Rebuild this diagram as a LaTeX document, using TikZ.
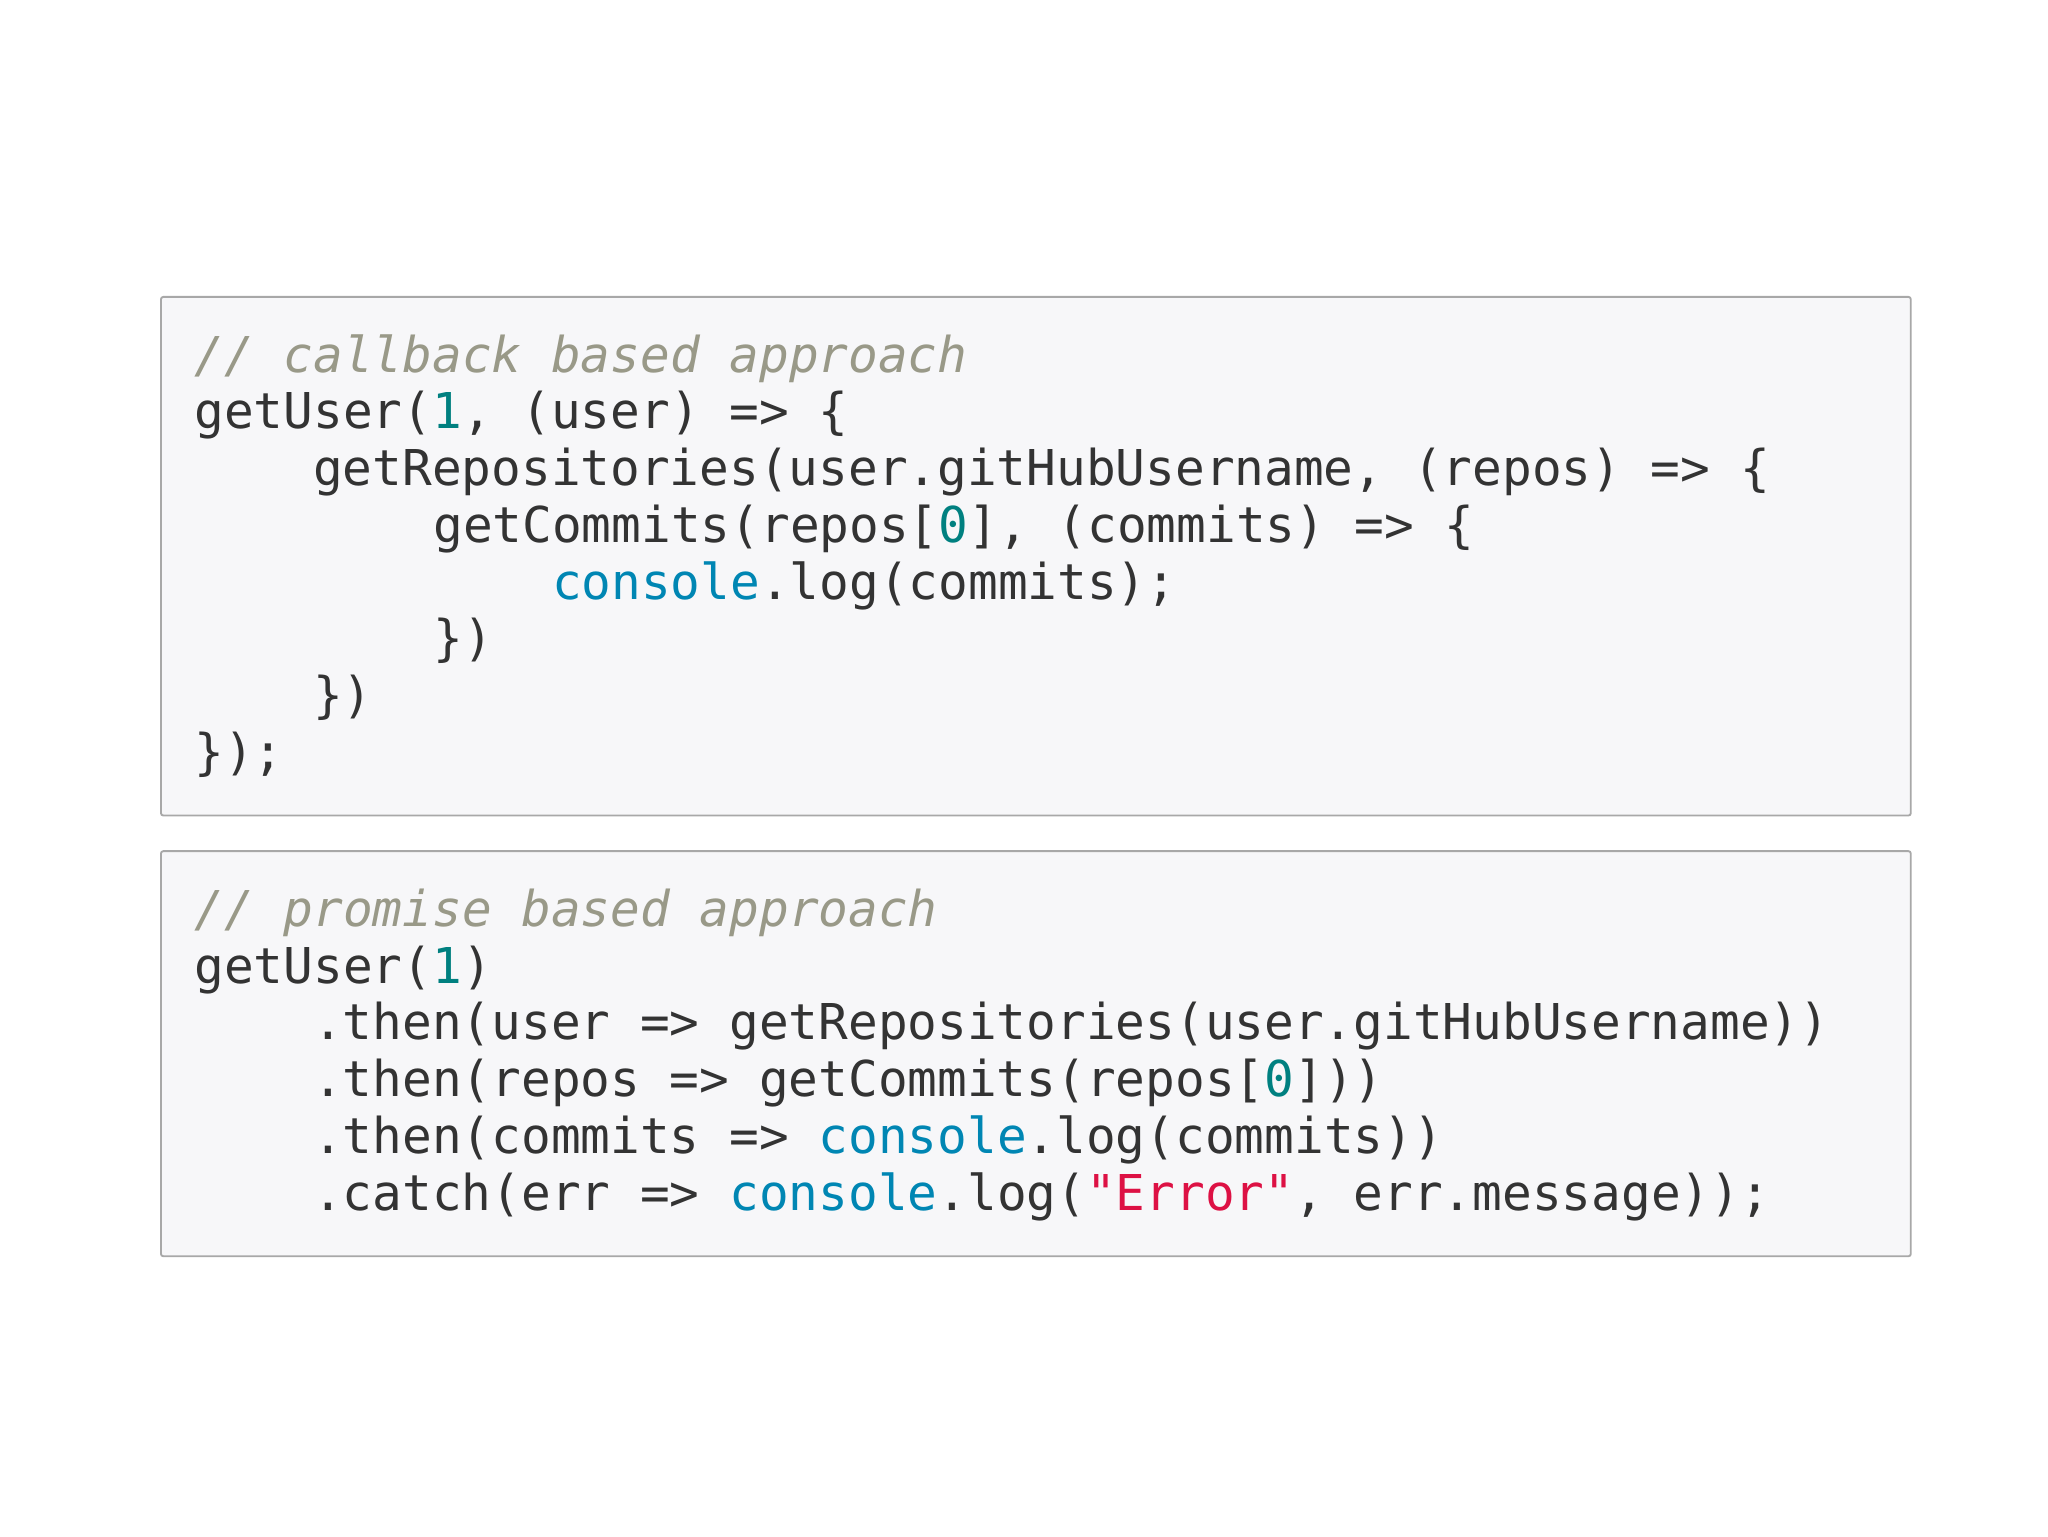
\documentclass[tikz,border=0pt]{standalone}
\usepackage{fontspec}
\setmonofont{DejaVu Sans Mono}
\definecolor{codeText}{HTML}{333333}
\definecolor{codeComment}{HTML}{999988}
\definecolor{codeNum}{HTML}{008080}
\definecolor{codeObj}{HTML}{0086B3}
\definecolor{codeStr}{HTML}{DD1144}
\definecolor{boxFill}{HTML}{F7F7F9}
\definecolor{boxLine}{HTML}{A8A8A8}
\newcommand{\cmt}[1]{{\itshape\color{codeComment}#1}}
\newcommand{\nm}[1]{{\color{codeNum}#1}}
\newcommand{\ob}[1]{{\color{codeObj}#1}}
\newcommand{\strg}[1]{{\color{codeStr}#1}}
\tikzset{code/.style={anchor=base west,inner sep=0pt,font=\ttfamily\fontsize{21.3}{24}\selectfont,text=codeText}}
\begin{document}
\begin{tikzpicture}[x=0.02cm,y=-0.02cm]
\useasboundingbox [fill=white] (0,0) rectangle (1552,1164);

\draw [fill=boxFill,draw=boxLine,line width=0.8pt,rounded corners=1pt] (122,225) rectangle (1448,618);
\draw [fill=boxFill,draw=boxLine,line width=0.8pt,rounded corners=1pt] (122,645) rectangle (1448,952);

% callback version
\node (c1) at (147,282) [code] {\cmt{// callback based approach}};
\node (c2) at (147,325) [code] {getUser(\nm{1}, (user) => \{};
\node (c3) at (237,368) [code] {getRepositories(user.gitHubUsername, (repos) => \{};
\node (c4) at (328,411) [code] {getCommits(repos[\nm{0}], (commits) => \{};
\node (c5) at (418,454) [code] {\ob{console}.log(commits);};
\node (c6) at (328,497) [code] {\})};
\node (c7) at (237,540) [code] {\})};
\node (c8) at (147,583) [code] {\});};

% promise version
\node (p1) at (147,702) [code] {\cmt{// promise based approach}};
\node (p2) at (147,745) [code] {getUser(\nm{1})};
\node (p3) at (237,788) [code] {.then(user => getRepositories(user.gitHubUsername))};
\node (p4) at (237,831) [code] {.then(repos => getCommits(repos[\nm{0}]))};
\node (p5) at (237,874) [code] {.then(commits => \ob{console}.log(commits))};
\node (p6) at (237,917) [code] {.catch(err => \ob{console}.log(\strg{"Error"}, err.message));};

\end{tikzpicture}
\end{document}
